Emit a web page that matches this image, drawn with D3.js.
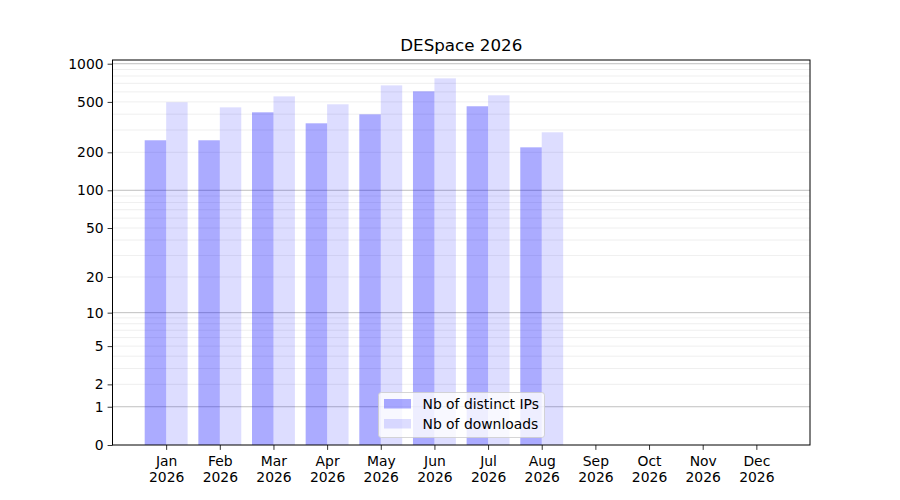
<!DOCTYPE html>
<html>
<head>
<meta charset="UTF-8">
<title>DESpace 2026</title>
<script src="https://d3js.org/d3.v7.min.js"></script>
<style>
body { margin: 0; background: #fff; }
text { font-family: "DejaVu Sans", sans-serif; fill: #000; }
</style>
</head>
<body>
<div id="chart"></div>
<script>
// data
const months = ["Jan", "Feb", "Mar", "Apr", "May", "Jun", "Jul", "Aug", "Sep", "Oct", "Nov", "Dec"];
const year = "2026";
const distinctIPs = [249, 249, 414, 339, 399, 606, 462, 219, null, null, null, null];
const downloads = [497, 453, 553, 479, 675, 767, 564, 288, null, null, null, null];
const yTicks = [0, 1, 2, 5, 10, 20, 50, 100, 200, 500, 1000];

const W = 900, H = 500;
const margin = {top: 60, right: 90, bottom: 55, left: 112.5};
const fs = "13.9px";

const svg = d3.select("#chart").append("svg")
  .attr("width", W)
  .attr("height", H);

// x: one unit per month, xlim [-1, 12]
const x = d3.scaleLinear()
  .domain([-1, 12])
  .range([margin.left, W - margin.right]);

// y: symlog with constant 1 == log(1 + v), 5% headroom on top
const yTop = Math.expm1(1.05 * Math.log1p(d3.max(downloads)));
const y = d3.scaleSymlog()
  .constant(1)
  .domain([0, yTop])
  .range([H - margin.bottom, margin.top]);

// grid lines: major at decades, minor at 2..9 multiples
const major = [1, 10, 100, 1000];
const minor = [];
[1, 10, 100].forEach(function(d) {
  for (let k = 2; k <= 9; k++) minor.push(d * k);
});

const grid = svg.append("g");
grid.selectAll(".minor")
  .data(minor.filter(v => v <= yTop))
  .enter().append("line")
    .attr("x1", margin.left).attr("x2", W - margin.right)
    .attr("y1", d => y(d)).attr("y2", d => y(d))
    .attr("stroke", "#b0b0b0")
    .attr("stroke-opacity", 0.25)
    .attr("stroke-width", 0.8);
grid.selectAll(".major")
  .data(major.filter(v => v <= yTop))
  .enter().append("line")
    .attr("x1", margin.left).attr("x2", W - margin.right)
    .attr("y1", d => y(d)).attr("y2", d => y(d))
    .attr("stroke", "#b0b0b0")
    .attr("stroke-width", 0.8);

// bars
const barW = 0.4;
svg.append("g").selectAll("rect")
  .data(distinctIPs.map((v, i) => ({i: i, v: v})).filter(d => d.v != null))
  .enter().append("rect")
    .attr("x", d => x(d.i - barW))
    .attr("width", x(barW) - x(0))
    .attr("y", d => y(d.v))
    .attr("height", d => y(0) - y(d.v))
    .attr("fill", "blue")
    .attr("fill-opacity", 0.33);

svg.append("g").selectAll("rect")
  .data(downloads.map((v, i) => ({i: i, v: v})).filter(d => d.v != null))
  .enter().append("rect")
    .attr("x", d => x(d.i))
    .attr("width", x(barW) - x(0))
    .attr("y", d => y(d.v))
    .attr("height", d => y(0) - y(d.v))
    .attr("fill", "blue")
    .attr("fill-opacity", 0.135);

// axes
const xAxis = svg.append("g")
  .attr("transform", `translate(0,${H - margin.bottom})`)
  .call(d3.axisBottom(x)
    .tickValues(d3.range(months.length))
    .tickSize(4.9)
    .tickPadding(4.5)
    .tickFormat(""));
xAxis.select(".domain").remove();
xAxis.selectAll(".tick line").attr("stroke", "#000").attr("stroke-width", 0.8);
xAxis.selectAll(".tick").append("text")
  .attr("text-anchor", "middle")
  .attr("font-size", fs)
  .each(function(d) {
    const t = d3.select(this);
    t.append("tspan").attr("x", 0).attr("y", 20.5).text(months[d]);
    t.append("tspan").attr("x", 0).attr("y", 36.5).text(year);
  });

const yAxis = svg.append("g")
  .attr("transform", `translate(${margin.left},0)`)
  .call(d3.axisLeft(y)
    .tickValues(yTicks)
    .tickSize(4.9)
    .tickPadding(4)
    .tickFormat(d3.format("d")));
yAxis.select(".domain").remove();
yAxis.selectAll(".tick line").attr("stroke", "#000").attr("stroke-width", 0.8);
yAxis.selectAll(".tick text")
  .attr("font-size", fs)
  .attr("font-family", "DejaVu Sans, sans-serif")
  .attr("fill", "#000");

// frame
svg.append("rect")
  .attr("x", margin.left)
  .attr("y", margin.top)
  .attr("width", W - margin.right - margin.left)
  .attr("height", H - margin.bottom - margin.top)
  .attr("fill", "none")
  .attr("stroke", "#000")
  .attr("stroke-width", 1);

// title
svg.append("text")
  .attr("x", (margin.left + W - margin.right) / 2)
  .attr("y", 51)
  .attr("text-anchor", "middle")
  .attr("font-size", "16.7px")
  .text("DESpace 2026");

// legend
const legendItems = [
  {label: "Nb of distinct IPs", op: 0.33},
  {label: "Nb of downloads", op: 0.135}
];
const lg = svg.append("g").attr("transform", "translate(378.5,392.5)");
lg.append("rect")
  .attr("width", 166)
  .attr("height", 45)
  .attr("rx", 2.7)
  .attr("fill", "#fff")
  .attr("fill-opacity", 0.8)
  .attr("stroke", "#ccc")
  .attr("stroke-opacity", 0.8);
lg.selectAll(".item")
  .data(legendItems)
  .enter().append("g")
    .attr("transform", (d, i) => `translate(0,${i * 20})`)
    .each(function(d) {
      const g = d3.select(this);
      g.append("rect")
        .attr("x", 5.5).attr("y", 6.5)
        .attr("width", 27).attr("height", 9.5)
        .attr("fill", "blue")
        .attr("fill-opacity", d.op);
      g.append("text")
        .attr("x", 44).attr("y", 16.5)
        .attr("font-size", fs)
        .text(d.label);
    });
</script>
</body>
</html>
